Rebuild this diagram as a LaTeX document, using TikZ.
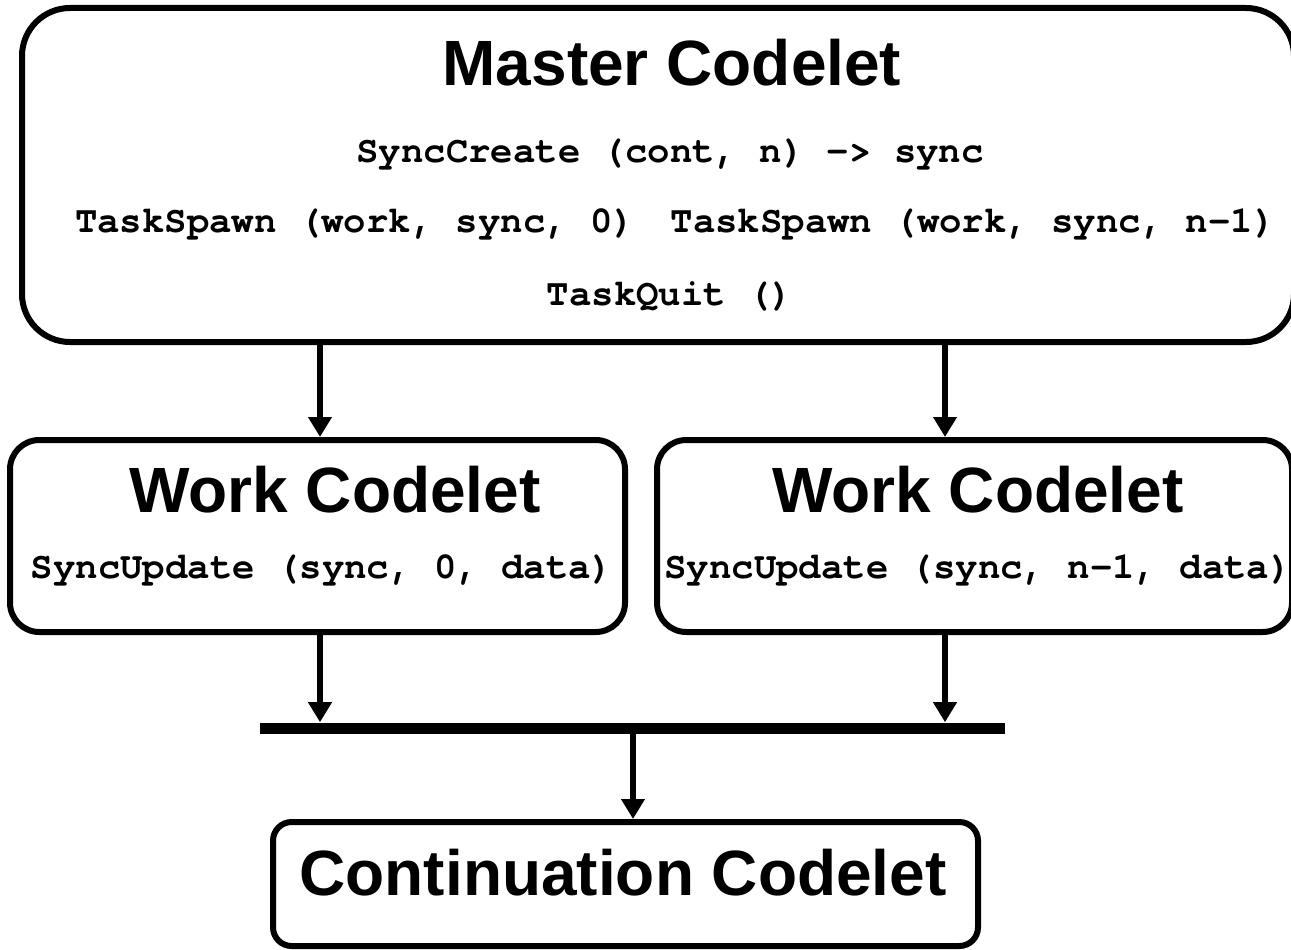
\documentclass[tikz,border=0pt]{standalone}
\usepackage{fontspec}
\setmainfont{Liberation Sans}
\setmonofont{TeX Gyre Cursor}
\usepackage{tikz}
\usetikzlibrary{arrows.meta}

\begin{document}
\begin{tikzpicture}[x=0.75pt,y=-0.75pt]

        \tikzset{
            codelet/.style={draw, line width=4.5pt, rounded corners=22pt, inner sep=0pt},
            codelet_master/.style={codelet, rounded corners=36pt, minimum width=954pt, minimum height=250.5pt},
            codelet_work/.style={codelet, minimum height=144pt},
            codelet_cont/.style={codelet, rounded corners=14pt, minimum width=528.75pt, minimum height=93pt},
            title/.style={anchor=base, inner sep=0pt, font=\fontsize{48}{56}\selectfont\bfseries},
            call/.style={anchor=base, inner sep=0pt, font=\fontsize{28}{32}\selectfont\ttfamily\bfseries},
            flow/.style={line width=4.5pt, -{Triangle[length=15pt,width=17pt]}}
        }

        \clip (0,0) rectangle (1291,949);
        \useasboundingbox (0,0) rectangle (1291,949);

        % boxes
        \node[codelet_master] (master) at (658, 175) {};
        \node[codelet_work, minimum width=461.25pt] (work0) at (317.5, 536) {};
        \node[codelet_work, minimum width=476.25pt] (work1) at (974.5, 536) {};
        \node[codelet_cont] (cont) at (625.5, 884) {};

        % join bar
        \node[fill, inner sep=0pt, minimum width=558.75pt, minimum height=8.25pt] (bar) at (632.5, 728) {};

        % texts
        \node[title] (masterT) at (672, 85) {Master Codelet};
        \node[call] (create) at (670, 162) {SyncCreate (cont, n) -> sync};
        \node[call] (spawn0) at (355, 232) {TaskSpawn (work, sync, 0)};
        \node[call] (spawnN) at (973, 232) {TaskSpawn (work, sync, n-1)};
        \node[call] (quit) at (670, 305) {TaskQuit ()};

        \node[title] (work0T) at (335, 512) {Work Codelet};
        \node[call] (update0) at (322, 578) {SyncUpdate (sync, 0, data)};
        \node[title] (work1T) at (978, 512) {Work Codelet};
        \node[call] (updateN) at (978, 578) {SyncUpdate (sync, n-1, data)};

        \node[title] (contT) at (623, 895) {Continuation Codelet};

        % connectors
        \coordinate (tap0) at (320, 0);
        \coordinate (tapN) at (945, 0);
        \coordinate (tapC) at (633, 0);

        \foreach \t in {0,N} {
            \draw[flow] (master.south -| tap\t) -- (work0.north -| tap\t);
        }
        \draw[flow] (work0.south -| tap0) -- (bar.north -| tap0);
        \draw[flow] (work1.south -| tapN) -- (bar.north -| tapN);
        \draw[flow] (bar.south -| tapC) -- (cont.north -| tapC);

    \end{tikzpicture}
\end{document}
